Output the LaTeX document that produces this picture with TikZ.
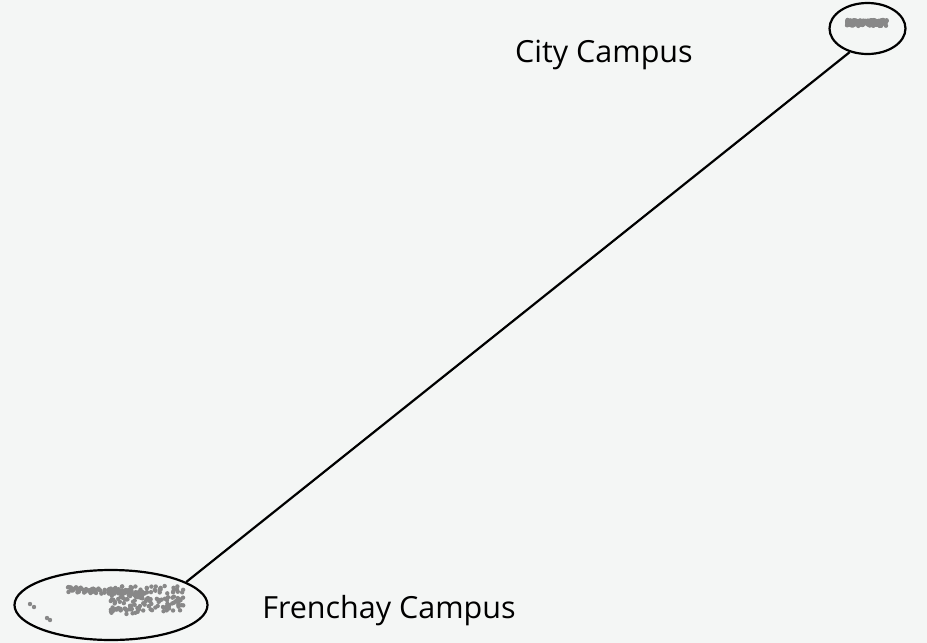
\documentclass[tikz,border=0pt]{standalone}
\usepackage{fontspec}
\setmainfont{Open Sans}
\usetikzlibrary{shapes.geometric}
\definecolor{bg}{HTML}{F4F6F5}
\definecolor{dotc}{HTML}{888888}
\begin{document}
\begin{tikzpicture}[x=1pt,y=-1pt,
  campus/.style={draw=black,line width=2.2pt},
  lbl/.style={font=\fontsize{30.5}{34}\selectfont,text=black},
  pt/.style={fill=dotc}]
\useasboundingbox[fill=bg] (0,0) rectangle (927,643);
\pgfmathsetseed{11}
% city dots
\foreach \i in {1,...,160}{
  \pgfmathsetmacro{\px}{847+40*rnd}
  \pgfmathsetmacro{\py}{20+6*rnd}
  \fill[pt] (\px,\py) circle (2.2);
}
% frenchay dots: upper band
\foreach \i in {1,...,90}{
  \pgfmathsetmacro{\px}{68+80*rnd}
  \pgfmathsetmacro{\py}{587+5*rnd+(\px-68)*0.05}
  \fill[pt] (\px,\py) circle (2.2);
}
% right blob
\foreach \i in {1,...,140}{
  \pgfmathsetmacro{\px}{110+74*rnd}
  \pgfmathsetmacro{\py}{586+26*rnd}
  \fill[pt] (\px,\py) circle (2.2);
}
\foreach \i in {1,...,12}{
  \pgfmathsetmacro{\px}{105+32*rnd}
  \pgfmathsetmacro{\py}{608+6*rnd}
  \fill[pt] (\px,\py) circle (2.2);
}
\fill[pt] (30,604) circle (2.2) (34,607) circle (2.2) (47,618) circle (2.2) (50,620) circle (2.2);
\node[campus,ellipse,minimum width=76,minimum height=51,inner sep=0] (city) at (867.5,28.5) {};
\node[campus,ellipse,minimum width=193,minimum height=70,inner sep=0] (fren) at (111,605) {};
\draw[line width=2.2pt] (city.233) -- (fren.17);
\node[lbl] (citylbl) at (604,55) {City Campus};
\node[lbl] (frenlbl) at (389,611) {Frenchay Campus};
\end{tikzpicture}
\end{document}
